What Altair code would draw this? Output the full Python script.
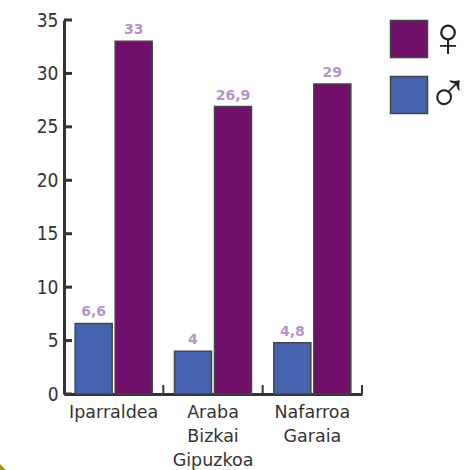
import altair as alt
import pandas as pd

regions = ["Iparraldea", "Araba|Bizkai|Gipuzkoa", "Nafarroa|Garaia"]
male = [6.6, 4, 4.8]
female = [33, 26.9, 29]
value_labels_male = ["6,6", "4", "4,8"]
value_labels_female = ["33", "26,9", "29"]
y_ticks = [0, 5, 10, 15, 20, 25, 30, 35]
groups = ["♀", "♂"]
colors = ["#70106b", "#4664ae"]

rows = []
for r, m, f, ml, fl in zip(regions, male, female, value_labels_male, value_labels_female):
    rows.append({"region": r, "group": "♂", "value": m, "label": ml})
    rows.append({"region": r, "group": "♀", "value": f, "label": fl})
df = pd.DataFrame(rows)

FONT = "DejaVu Sans"
INK = "#333333"
W, H = 298, 374

x = alt.X(
    "region:N",
    sort=regions,
    scale=alt.Scale(paddingInner=0, paddingOuter=0),
    axis=alt.Axis(
        title=None,
        labelAngle=0,
        ticks=False,
        domain=True,
        domainColor=INK,
        domainWidth=3,
        labelExpr="split(datum.label, '|')",
        labelFont=FONT,
        labelFontSize=17.5,
        labelColor=INK,
        labelPadding=9,
        labelLineHeight=24,
        labelBaseline="top",
    ),
)
y = alt.Y(
    "value:Q",
    scale=alt.Scale(domain=[0, 35], nice=False),
    axis=alt.Axis(
        title=None,
        values=y_ticks,
        grid=False,
        ticks=False,
        domain=True,
        domainColor=INK,
        domainWidth=3,
        labelFont="DejaVu Sans Condensed",
        labelFontSize=19,
        labelColor=INK,
        labelPadding=6,
    ),
)
x_offset = alt.XOffset(
    "group:N",
    sort=["♂", "♀"],
    scale=alt.Scale(paddingInner=0.075, paddingOuter=0.279),
)

bars = (
    alt.Chart(df)
    .mark_bar(stroke="#444444", strokeWidth=1.5)
    .encode(
        x=x,
        xOffset=x_offset,
        y=y,
        color=alt.Color(
            "group:N",
            scale=alt.Scale(domain=groups, range=colors),
            legend=alt.Legend(
                title=None,
                orient="none",
                legendX=317,
                legendY=-9,
                symbolType="square",
                symbolSize=1369,
                symbolStrokeColor="#444444",
                symbolStrokeWidth=1.5,
                symbolOpacity=1,
                labelFont="Liberation Sans",
                labelFontSize=56,
                labelColor="#222222",
                labelOffset={"expr": "-10"},
                rowPadding=0,
            ),
        ),
    )
)

labels = (
    alt.Chart(df)
    .mark_text(dy=-11, font=FONT, fontSize=14, fontWeight="bold", color="#b495c4")
    .encode(x=x, xOffset=x_offset, y=y, text="label:N")
)

# Tick marks point inwards, so they are drawn as short rules from the axis lines.
y_tick_marks = (
    alt.Chart(pd.DataFrame({"tick": y_ticks}))
    .mark_rule(color=INK, strokeWidth=3)
    .encode(y=alt.Y("tick:Q"), x=alt.value(0), x2=alt.value(8))
)
x_tick_marks = (
    alt.Chart(pd.DataFrame({"region": regions}))
    .mark_rule(color=INK, strokeWidth=2)
    .encode(
        x=alt.X("region:N", sort=regions, bandPosition=1),
        y=alt.value(H),
        y2=alt.value(H - 9),
    )
)

# Small olive ornament in the bottom-left corner of the page.
corner = (
    alt.Chart(pd.DataFrame({"n": [0]}))
    .mark_point(shape="diamond", filled=True, size=144, color="#a39a10", opacity=1, clip=False)
    .encode(x=alt.value(-64), y=alt.value(H + 76))
)

chart = (
    alt.layer(bars, labels, y_tick_marks, x_tick_marks, corner)
    .properties(
        width=W,
        height=H,
        autosize=alt.AutoSizeParams(type="none"),
        padding={"left": 64, "top": 20, "right": 110, "bottom": 76},
    )
    .configure_view(stroke=None)
)

chart.save("out.html", embed_options={"renderer": "svg", "actions": False})
